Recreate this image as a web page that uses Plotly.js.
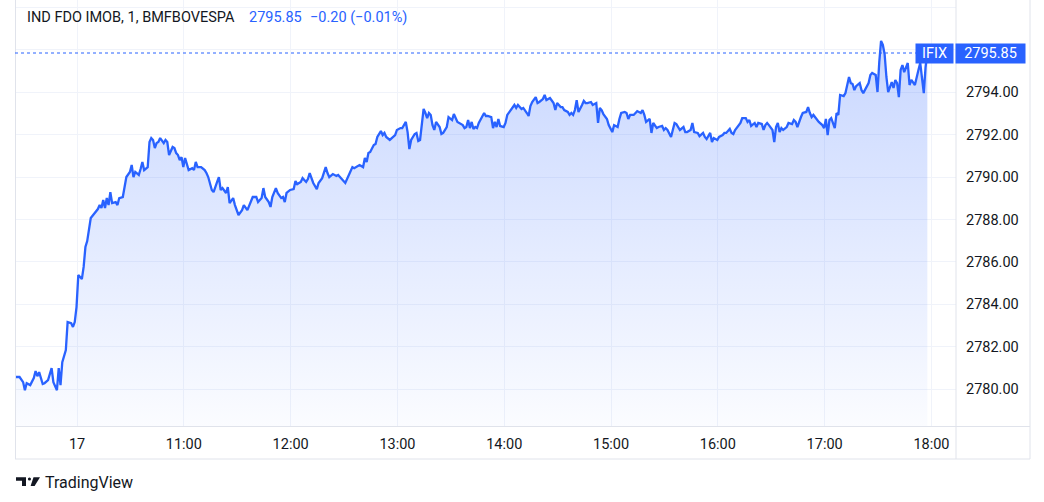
<!DOCTYPE html>
<html>
<head>
<meta charset="utf-8">
<script src="https://cdn.plot.ly/plotly-3.0.1.min.js"></script>
<style>
  html, body { margin: 0; padding: 0; background: #ffffff; }
  #chart { width: 1044px; height: 502px; }
</style>
</head>
<body>
<div id="chart"></div>
<script>
// ---- data (bar index ~ minutes, price) ----
const bars = [
  0,2,4,5,6,8,10,11,12,13,
  15,16,18,20,21,23,24,25,26,28,
  29,31,32,33,34,35,37,38,39,40,
  42,44,46,47,48,49,50,51,52,53,
  54,56,57,58,60,62,63,64,65,66,
  67,69,70,71,72,74,75,76,77,78,
  79,80,81,83,84,85,86,88,89,90,
  91,92,93,94,95,97,99,100,101,102,
  104,106,107,108,110,111,113,114,115,116,
  118,119,120,122,123,124,125,127,128,130,
  131,133,135,136,138,139,140,142,143,144,
  146,147,149,150,151,152,154,156,157,158,
  160,161,163,164,165,167,169,170,172,174,
  175,176,178,180,181,183,185,187,189,190,
  192,193,195,196,197,198,199,201,202,203,
  205,206,207,208,210,212,213,214,216,217,
  219,220,221,222,224,225,226,227,229,230,
  231,232,233,234,235,236,238,239,240,242,
  243,245,246,248,249,251,252,253,254,255,
  256,257,258,259,260,262,263,264,265,267,
  268,269,270,271,272,274,275,276,278,279,
  280,281,282,284,285,287,288,289,290,292,
  293,294,296,297,298,300,302,303,304,306,
  307,308,310,311,312,313,314,315,316,318,
  319,320,321,323,324,326,327,328,329,330,
  332,333,335,336,338,339,340,342,343,344,
  345,347,348,349,351,352,353,354,356,357,
  358,360,361,363,364,365,366,368,369,370,
  371,373,375,376,377,379,380,381,383,384,
  386,387,388,390,391,392,394,395,397,398,
  399,401,402,403,404,406,407,408,410,411,
  412,413,415,416,417,419,420,421,422,423,
  425,426,427,428,429,430,431,433,434,436,
  437,438,439,441,442,444,445,446,447,448,
  450,451,453,454,455,456,457,458,460,461,
  462,463,465,466,467,468,469,470,471,472,
  474,475,476,478,479,480,481,483,484,485,
  486,487,488,489,490,492,493,494,495,496,
  497,498,499,501,502,503,504,505,507,508,
  510,511,512
];
const prices = [
  2780.57,2780.57,2780.33,2779.95,2780.28,2780.19,2780.52,2780.85,2780.61,2780.80,
  2780.24,2780.28,2780.43,2780.99,2780.33,2779.95,2780.99,2780.19,2781.27,2781.84,
  2783.16,2783.11,2782.93,2783.16,2783.87,2785.38,2785.19,2785.76,2786.70,2786.98,
  2788.07,2788.30,2788.49,2788.68,2788.54,2788.92,2788.54,2789.01,2788.68,2789.29,
  2788.77,2788.82,2788.68,2789.01,2789.06,2790.00,2790.10,2790.24,2790.57,2790.00,
  2790.24,2790.10,2790.38,2790.71,2790.33,2790.47,2791.65,2791.84,2791.75,2791.37,
  2791.60,2791.65,2791.84,2791.60,2791.75,2791.65,2791.04,2791.42,2791.37,2791.13,
  2791.04,2790.80,2790.94,2790.47,2790.90,2790.33,2790.42,2790.33,2790.71,2790.47,
  2790.47,2790.33,2790.19,2790.00,2789.39,2789.29,2789.77,2790.00,2789.39,2789.48,
  2789.25,2789.53,2788.77,2789.01,2788.68,2788.44,2788.21,2788.44,2788.68,2788.44,
  2788.68,2789.06,2789.06,2788.82,2789.01,2789.48,2789.06,2788.82,2788.59,2789.06,
  2789.48,2789.25,2789.01,2789.06,2788.82,2789.25,2789.39,2789.43,2789.81,2789.67,
  2789.77,2789.95,2789.77,2789.91,2790.19,2789.72,2789.43,2789.72,2789.95,2790.47,
  2790.19,2790.00,2790.14,2790.05,2790.10,2789.91,2789.72,2790.10,2790.47,2790.42,
  2790.52,2790.57,2790.47,2790.90,2790.71,2791.13,2791.18,2791.51,2791.56,2791.89,
  2792.17,2791.98,2792.08,2791.89,2791.75,2791.89,2791.98,2792.22,2792.31,2792.31,
  2792.60,2792.12,2791.32,2791.75,2792.03,2792.08,2791.70,2791.75,2793.21,2793.02,
  2792.78,2793.02,2792.93,2792.45,2792.22,2792.60,2792.36,2792.03,2792.08,2792.36,
  2792.83,2792.69,2792.97,2792.60,2792.55,2792.45,2792.31,2792.36,2792.69,2792.31,
  2792.60,2792.27,2792.36,2792.31,2792.55,2792.83,2793.02,2792.88,2792.88,2792.83,
  2792.31,2792.60,2792.36,2792.74,2792.41,2792.36,2792.55,2792.93,2793.16,2793.26,
  2793.40,2793.26,2793.40,2793.21,2793.26,2793.02,2792.88,2793.35,2793.54,2793.77,
  2793.49,2793.54,2793.68,2793.87,2793.63,2793.73,2793.49,2793.16,2793.49,2793.30,
  2793.30,2793.16,2793.07,2792.93,2793.02,2792.93,2793.16,2793.63,2793.07,2793.40,
  2793.59,2793.49,2793.49,2793.54,2793.40,2793.49,2792.55,2793.26,2793.16,2792.97,
  2792.74,2792.45,2792.12,2792.45,2792.36,2792.74,2793.02,2793.07,2793.02,2792.74,
  2792.93,2792.93,2793.02,2793.11,2793.02,2793.16,2792.93,2792.60,2792.74,2792.08,
  2792.55,2792.31,2792.36,2792.41,2792.22,2792.31,2792.22,2791.89,2792.22,2792.55,
  2792.50,2792.22,2792.36,2792.12,2792.12,2792.22,2792.55,2792.12,2792.08,2791.93,
  2792.08,2791.89,2791.79,2792.08,2791.65,2791.84,2791.75,2791.89,2791.98,2792.08,
  2792.08,2792.27,2792.08,2792.03,2792.22,2792.45,2792.55,2792.78,2792.78,2792.60,
  2792.69,2792.41,2792.55,2792.36,2792.55,2792.50,2792.22,2792.45,2792.55,2792.45,
  2792.22,2791.65,2792.36,2792.55,2792.12,2792.31,2792.22,2792.36,2792.55,2792.50,
  2792.69,2792.60,2792.36,2792.83,2793.02,2793.07,2793.30,2793.02,2792.83,2792.93,
  2792.69,2792.60,2792.45,2792.31,2792.74,2791.98,2792.69,2792.78,2792.31,2793.02,
  2792.93,2793.87,2793.82,2793.96,2794.34,2794.72,2794.43,2794.39,2794.10,2794.29,
  2794.43,2794.10,2793.96,2794.25,2794.43,2794.81,2794.91,2794.81,2794.01,2795.43,
  2796.42,2796.23,2795.80,2794.72,2794.01,2794.48,2794.20,2794.58,2794.43,2793.77,
  2795.05,2795.28,2794.95,2795.38,2794.34,2794.58,2794.48,2794.34,2795.05,2795.38,
  2793.96,2795.19,2795.85
];
const timeTickBars = [34.3, 94.3, 154.3, 214.3, 274.3, 334.3, 394.3, 454.3, 514.3];
const timeTickLabels = ["17", "11:00", "12:00", "13:00", "14:00", "15:00", "16:00", "17:00", "18:00"];
const priceTicks = [2780, 2782, 2784, 2786, 2788, 2790, 2792, 2794, 2796, 2798];
const hiddenPriceTick = 2796;
const symbolTitle = "IND FDO IMOB, 1, BMFBOVESPA";
const symbolName = "IFIX";
const lastPrice = 2795.85;
const changeText = "\u22120.20 (\u22120.01%)";

// ---- style ----
const BLUE = "#2962FF";
const TEXT = "#131722";
const GRID = "#f0f3fa";
const BORDER = "#e0e3eb";
const FONT = "Roboto, 'Noto Sans', sans-serif";
const FS = 14.5;
const W = 1044, H = 502;
const M = { l: 15, r: 88, t: 0, b: 76 };
const PW = W - M.l - M.r, PH = H - M.t - M.b;
const px = x => (x - M.l) / PW;          // pixel -> paper x
const py = y => (H - M.b - y) / PH;       // pixel -> paper y
const yMin = 2778.26, yMax = 2798.35;

const trace = {
  type: "scatter",
  mode: "lines",
  x: bars,
  y: prices,
  line: { color: BLUE, width: 2.3 },
  fill: "tozeroy",
  fillgradient: {
    type: "vertical",
    start: yMin,
    stop: yMax,
    colorscale: [[0, "rgba(41,98,255,0.02)"], [1, "rgba(41,98,255,0.28)"]]
  },
  hoverinfo: "skip"
};

const borderLine = (x0, y0, x1, y1) => ({
  type: "line", xref: "paper", yref: "paper",
  x0: px(x0), y0: py(y0), x1: px(x1), y1: py(y1),
  line: { color: BORDER, width: 1 }, layer: "above"
});

const shapes = [
  borderLine(15.5, 0, 15.5, 459),
  borderLine(15, 426.5, 1030, 426.5),
  borderLine(15, 459, 1030, 459),
  borderLine(956, 0, 956, 459),
  borderLine(1030, 0, 1030, 459),
  {
    type: "line", xref: "paper", yref: "y",
    x0: 0, x1: px(916), y0: lastPrice, y1: lastPrice,
    line: { color: BLUE, width: 1, dash: "dot" }, layer: "above"
  },
  // TradingView logo mark
  {
    type: "path", xref: "paper", yref: "paper",
    path: `M${px(16)},${py(477.3)} L${px(26)},${py(477.3)} L${px(26)},${py(486)} L${px(22)},${py(486)} L${px(22)},${py(480.7)} L${px(16)},${py(480.7)} Z`,
    fillcolor: TEXT, line: { width: 0 }
  },
  {
    type: "circle", xref: "paper", yref: "paper",
    x0: px(27.9), x1: px(31.0), y0: py(480.6), y1: py(477.4),
    fillcolor: TEXT, line: { width: 0 }
  },
  {
    type: "path", xref: "paper", yref: "paper",
    path: `M${px(33.5)},${py(477.3)} L${px(40)},${py(477.3)} L${px(34.6)},${py(486)} L${px(30.6)},${py(486)} Z`,
    fillcolor: TEXT, line: { width: 0 }
  }
];

const annotations = [
  {
    xref: "paper", yref: "paper", x: px(25), y: py(17), xanchor: "left", yanchor: "middle",
    text: symbolTitle, showarrow: false, font: { family: FONT, size: FS, color: TEXT }
  },
  {
    xref: "paper", yref: "paper", x: px(247), y: py(17), xanchor: "left", yanchor: "middle",
    text: lastPrice.toFixed(2), showarrow: false, font: { family: FONT, size: FS, color: BLUE }
  },
  {
    xref: "paper", yref: "paper", x: px(308), y: py(17), xanchor: "left", yanchor: "middle",
    text: changeText, showarrow: false, font: { family: FONT, size: FS, color: BLUE }
  },
  {
    xref: "paper", yref: "y", x: px(934.5), y: lastPrice, xanchor: "center", yanchor: "middle",
    text: symbolName, showarrow: false, bgcolor: BLUE, borderpad: 0, width: 37, height: 19,
    font: { family: FONT, size: FS, color: "#ffffff" }
  },
  {
    xref: "paper", yref: "y", x: px(990.5), y: lastPrice, xanchor: "center", yanchor: "middle",
    text: lastPrice.toFixed(2), showarrow: false, bgcolor: BLUE, borderpad: 0, width: 69, height: 19,
    font: { family: FONT, size: FS, color: "#ffffff" }
  },
  {
    xref: "paper", yref: "paper", x: px(43), y: py(482.5), xanchor: "left", yanchor: "middle",
    text: "TradingView", showarrow: false, font: { family: FONT, size: 16, color: TEXT }
  }
];

const layout = {
  width: W, height: H,
  margin: { l: M.l, r: M.r, t: M.t, b: M.b, pad: 0 },
  paper_bgcolor: "#ffffff",
  plot_bgcolor: "#ffffff",
  showlegend: false,
  font: { family: FONT, color: TEXT, size: FS },
  xaxis: {
    range: [-0.56, 528.1],
    tickmode: "array", tickvals: timeTickBars, ticktext: timeTickLabels,
    showgrid: true, gridcolor: GRID, gridwidth: 1,
    zeroline: false, showline: false, ticks: "",
    tickfont: { family: FONT, size: FS, color: TEXT },
    ticklabelstandoff: 7,
    fixedrange: true
  },
  yaxis: {
    side: "right",
    range: [yMin, yMax],
    tickmode: "array", tickvals: priceTicks,
    ticktext: priceTicks.map(v => v === hiddenPriceTick ? "" : v.toFixed(2)),
    showgrid: true, gridcolor: GRID, gridwidth: 1,
    zeroline: false, showline: false, ticks: "",
    tickfont: { family: FONT, size: FS, color: TEXT },
    ticklabelstandoff: 9,
    fixedrange: true
  },
  shapes: shapes,
  annotations: annotations
};

Plotly.newPlot("chart", [trace], layout, { displayModeBar: false, staticPlot: true });
</script>
</body>
</html>
